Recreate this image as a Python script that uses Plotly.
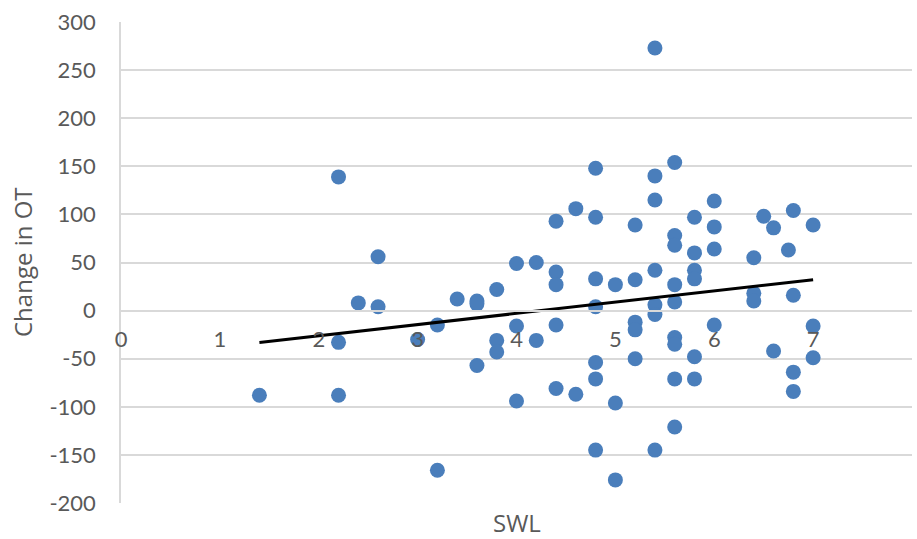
import numpy as np
import plotly.graph_objects as go

swl = [1.4, 2.2, 2.2, 2.2, 2.4, 2.6, 2.6, 3.0, 3.2, 3.2, 3.4, 3.6, 3.6, 3.6,
       3.8, 3.8, 3.8, 4.0, 4.0, 4.0, 4.2, 4.2, 4.4, 4.4, 4.4, 4.4, 4.4,
       4.6, 4.6, 4.8, 4.8, 4.8, 4.8, 4.8, 4.8, 4.8, 5.0, 5.0, 5.0,
       5.2, 5.2, 5.2, 5.2, 5.2, 5.4, 5.4, 5.4, 5.4, 5.4, 5.4, 5.4,
       5.6, 5.6, 5.6, 5.6, 5.6, 5.6, 5.6, 5.6, 5.6,
       5.8, 5.8, 5.8, 5.8, 5.8, 5.8, 6.0, 6.0, 6.0, 6.0,
       6.4, 6.4, 6.4, 6.5, 6.6, 6.6, 6.75, 6.8, 6.8, 6.8, 6.8,
       7.0, 7.0, 7.0]
change_ot = [-88, 139, -33, -88, 8, 56, 4, -30, -15, -166, 12, 10, 7, -57,
             22, -31, -43, 49, -16, -94, 50, -31, 93, 40, 27, -15, -81,
             106, -87, 148, 97, 33, 4, -54, -71, -145, 27, -96, -176,
             89, 32, -12, -20, -50, 273, 140, 115, 42, 6, -4, -145,
             154, 78, 68, 27, 9, -28, -35, -71, -121,
             97, 60, 42, 33, -48, -71, 114, 87, 64, -15,
             55, 18, 10, 98, 86, -42, 63, 104, 16, -64, -84,
             89, -16, -49]

x_ticks = [0, 1, 2, 3, 4, 5, 6, 7, 8]
y_ticks = [-200, -150, -100, -50, 0, 50, 100, 150, 200, 250, 300]
x_title = "SWL"
y_title = "Change in OT"

x_range = [0, 8]
y_range = [-200, 300]

xa = np.array(swl, dtype=float)
ya = np.array(change_ot, dtype=float)
slope, intercept = np.polyfit(xa, ya, 1)
trend_x = np.array([xa.min(), xa.max()])
trend_y = slope * trend_x + intercept

fig = go.Figure()
fig.add_trace(go.Scatter(
    x=swl, y=change_ot, mode="markers",
    marker=dict(color="#4a7ebb", size=15, line=dict(width=0)),
    showlegend=False, hoverinfo="x+y",
))
fig.add_trace(go.Scatter(
    x=trend_x, y=trend_y, mode="lines",
    line=dict(color="#000000", width=3),
    showlegend=False, hoverinfo="skip",
))

grid = "#d9d9d9"
tick_font = dict(family="Lato, Calibri, sans-serif", size=22, color="#595959")
title_font = dict(family="Open Sans, sans-serif", size=24, color="#595959")

zero_pos = (0 - y_range[0]) / (y_range[1] - y_range[0])

L, R, T, B = 121, 5, 22, 36
W, H = 917, 539
plot_w = W - L - R

fig.update_layout(
    width=W, height=H,
    margin=dict(l=L, r=R, t=T, b=B),
    paper_bgcolor="white", plot_bgcolor="white",
    xaxis=dict(
        range=x_range, tickvals=x_ticks, ticktext=[str(v) for v in x_ticks],
        showgrid=False, zeroline=False,
        showline=True, linecolor=grid, linewidth=1.5,
        anchor="free", position=zero_pos,
        ticks="", ticklabelstandoff=9,
        tickfont=tick_font,
    ),
    yaxis=dict(
        range=y_range, tickvals=y_ticks, ticktext=[str(v) for v in y_ticks],
        showgrid=True, gridcolor=grid, gridwidth=1.5,
        zeroline=False, showline=True, linecolor=grid, linewidth=1.5,
        ticks="", ticklabelstandoff=19,
        tickfont=tick_font,
    ),
    annotations=[
        dict(text=x_title, xref="paper", yref="paper", x=0.5, y=0,
             xanchor="center", yanchor="top", yshift=-1,
             showarrow=False, font=title_font),
        dict(text=y_title, xref="paper", yref="paper",
             x=(4 - L) / plot_w, y=0.5, xanchor="left", yanchor="middle",
             textangle=-90, showarrow=False, font=title_font),
    ],
)

fig.write_html(
    "out.html",
    config={"displayModeBar": False},
    post_script="document.body.style.margin='0';document.body.style.overflow='hidden';",
)
